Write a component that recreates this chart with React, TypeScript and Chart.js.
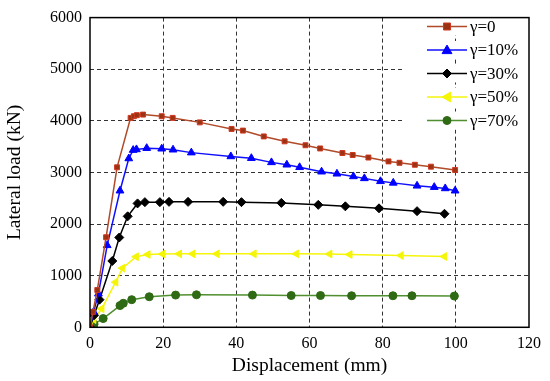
import React, { useEffect, useRef } from "react";
import { Chart, registerables } from "chart.js";

Chart.register(...registerables);

const seriesLabels = ["γ=0", "γ=10%", "γ=30%", "γ=50%", "γ=70%"];

const x0 = [0, 0.8, 2.0, 4.4, 7.4, 11.1, 12.0, 12.8, 14.5, 19.6, 22.6, 30, 38.7, 41.8, 47.5, 53.2, 58.9, 62.9, 69, 71.8, 76.1, 81.6, 84.6, 88.8, 93.2, 99.8];
const y0 = [0, 300, 723, 1745, 3100, 4057, 4089, 4110, 4121, 4089, 4057, 3970, 3843, 3811, 3698, 3603, 3527, 3465, 3376, 3338, 3289, 3214, 3187, 3149, 3112, 3049];

const x10 = [0, 1.0, 2.3, 4.7, 8.2, 10.6, 11.8, 12.7, 15.5, 19.6, 22.7, 27.7, 38.5, 44.1, 49.6, 53.8, 57.3, 63.3, 67.5, 72, 75, 79.4, 82.9, 89.4, 94.1, 97.1, 99.8];
const y10 = [0, 300, 650, 1588, 2646, 3270, 3433, 3446, 3470, 3459, 3440, 3384, 3310, 3276, 3195, 3149, 3100, 3014, 2974, 2923, 2885, 2828, 2798, 2741, 2715, 2690, 2646];

const x30 = [0, 1.1, 2.6, 6.1, 8.0, 10.3, 13.0, 15, 19.1, 21.6, 26.8, 36.4, 41.4, 52.3, 62.4, 69.8, 79, 89.4, 96.9];
const y30 = [0, 232, 535, 1285, 1740, 2150, 2400, 2425, 2425, 2430, 2430, 2431, 2425, 2410, 2372, 2344, 2305, 2250, 2199];

const x50 = [0, 1.0, 3.2, 7.0, 8.9, 12.6, 15.8, 19.9, 24.4, 28.1, 34.7, 44.8, 56.4, 65.5, 71, 85, 96.9];
const y50 = [0, 150, 359, 875, 1146, 1367, 1410, 1420, 1423, 1423, 1423, 1423, 1423, 1420, 1410, 1391, 1372];

const x70 = [0, 1.1, 3.6, 8.2, 9.1, 11.4, 16.2, 23.4, 29.1, 44.4, 55, 63, 71.5, 82.8, 88, 99.6];
const y70 = [0, 60, 170, 421, 465, 535, 592, 624, 630, 624, 616, 616, 611, 611, 611, 605];

const xTicks = [0, 20, 40, 60, 80, 100, 120];
const yTicks = [0, 1000, 2000, 3000, 4000, 5000, 6000];

const styles = [
  { line: "#b04a28", fill: "#983414", stroke: "#d03820", shape: "rect", r: 3.5, rot: 0 },
  { line: "#1010ff", fill: "#0000ff", stroke: "#0000ff", shape: "triangle", r: 4.5, rot: 0 },
  { line: "#000000", fill: "#000000", stroke: "#000000", shape: "rectRot", r: 4.5, rot: 0 },
  { line: "#f5f50a", fill: "#f5f50a", stroke: "#f5f50a", shape: "triangle", r: 4.5, rot: 270 },
  { line: "#4f8f2f", fill: "#2f6a14", stroke: "#2f6a14", shape: "circle", r: 4, rot: 0 },
];

const xs = [x0, x10, x30, x50, x70];
const ys = [y0, y10, y30, y50, y70];

const FONT = "'Liberation Serif', 'Times New Roman', serif";

function drawMarker(ctx: CanvasRenderingContext2D, shape: string, cx: number, cy: number, r: number, rot: number) {
  ctx.save();
  ctx.translate(cx, cy);
  ctx.rotate((rot * Math.PI) / 180);
  ctx.beginPath();
  if (shape === "rect") {
    ctx.rect(-r, -r, 2 * r, 2 * r);
  } else if (shape === "triangle") {
    ctx.moveTo(0, -r * 1.1);
    ctx.lineTo(r * 1.1, r * 0.8);
    ctx.lineTo(-r * 1.1, r * 0.8);
    ctx.closePath();
  } else if (shape === "rectRot") {
    ctx.moveTo(0, -r);
    ctx.lineTo(r, 0);
    ctx.lineTo(0, r);
    ctx.lineTo(-r, 0);
    ctx.closePath();
  } else {
    ctx.arc(0, 0, r, 0, Math.PI * 2);
  }
  ctx.fill();
  ctx.stroke();
  ctx.restore();
}

const legendBgPlugin = {
  id: "legendBg",
  beforeDatasetsDraw(chart: any) {
    const { ctx, chartArea } = chart;
    const ly0 = 26.5, dy = 23.5;
    ctx.save();
    ctx.fillStyle = "#fff";
    seriesLabels.forEach((_l, i) => {
      const y = ly0 + i * dy;
      ctx.fillRect(405, y - 9, chartArea.right - 406, 18);
    });
    ctx.restore();
  },
};

const framePlugin = {
  id: "frameAndLegend",
  afterDraw(chart: any) {
    const { ctx, chartArea } = chart;
    ctx.save();
    ctx.strokeStyle = "#000";
    ctx.lineWidth = 1.5;
    ctx.strokeRect(chartArea.left, chartArea.top, chartArea.right - chartArea.left, chartArea.bottom - chartArea.top);
    const lx1 = 427, lx2 = 467, ly0 = 26.5, dy = 23.5;
    ctx.font = "17px " + FONT;
    ctx.textBaseline = "middle";
    ctx.textAlign = "left";
    seriesLabels.forEach((lab, i) => {
      const s = styles[i];
      const y = ly0 + i * dy;
      ctx.strokeStyle = s.line;
      ctx.lineWidth = 1.5;
      ctx.beginPath();
      ctx.moveTo(lx1, y);
      ctx.lineTo(lx2, y);
      ctx.stroke();
      ctx.fillStyle = s.fill;
      ctx.strokeStyle = s.stroke;
      ctx.lineWidth = 1;
      drawMarker(ctx, s.shape, (lx1 + lx2) / 2, y, s.r, s.rot);
      ctx.fillStyle = "#000";
      ctx.fillText(lab, 470, y + 1);
    });
    ctx.restore();
  },
};

export default function App() {
  const ref = useRef<HTMLCanvasElement | null>(null);
  useEffect(() => {
    if (!ref.current) return;
    const datasets = seriesLabels.map((lab, i) => ({
      label: lab,
      data: xs[i].map((x, j) => ({ x, y: ys[i][j] })),
      borderColor: styles[i].line,
      backgroundColor: styles[i].fill,
      pointBackgroundColor: styles[i].fill,
      pointBorderColor: styles[i].stroke,
      pointBorderWidth: 1,
      pointStyle: styles[i].shape,
      pointRotation: styles[i].rot,
      pointRadius: styles[i].r,
      borderWidth: 1.5,
      tension: 0,
      fill: false,
    }));
    const gridColor = (c: any) =>
      c.tick && (c.tick.value === 0 || c.tick.value === 120 || c.tick.value === 6000) ? "rgba(0,0,0,0)" : "#333";
    const chart = new Chart(ref.current, {
      type: "line",
      data: { datasets },
      options: {
        responsive: false,
        animation: false,
        devicePixelRatio: 1,
        layout: { padding: { top: 10, right: 21, left: 0, bottom: 0 } },
        plugins: { legend: { display: false }, tooltip: { enabled: false } },
        scales: {
          x: {
            type: "linear",
            min: 0,
            max: 120,
            afterBuildTicks: (s: any) => { s.ticks = xTicks.map((v) => ({ value: v })); },
            afterFit: (s: any) => { s.height = 53.7; },
            grid: { color: gridColor, lineWidth: 1, drawTicks: false },
            border: { display: false, dash: [4, 3] },
            ticks: { color: "#000", padding: 7, font: { family: FONT, size: 16 }, callback: (v: any) => String(v) },
            title: { display: true, text: "Displacement (mm)", color: "#000", padding: { top: 3, bottom: 3 }, font: { family: FONT, size: 19.5 } },
          },
          y: {
            type: "linear",
            min: 0,
            max: 6000,
            afterBuildTicks: (s: any) => { s.ticks = yTicks.map((v) => ({ value: v })); },
            afterFit: (s: any) => { s.width = 90; },
            grid: { color: gridColor, lineWidth: 1, drawTicks: false },
            border: { display: false, dash: [4, 3] },
            ticks: { color: "#000", padding: 8, font: { family: FONT, size: 16 }, callback: (v: any) => String(v) },
            title: { display: true, text: "Lateral load (kN)", color: "#000", padding: { top: 3, bottom: 3 }, font: { family: FONT, size: 19.5 } },
          },
        },
      },
      plugins: [legendBgPlugin, framePlugin],
    } as any);
    return () => chart.destroy();
  }, []);
  return (
    <div style={{ position: "absolute", left: 0, top: 0, width: 550, height: 381, background: "#fff" }}>
      <canvas ref={ref} width={550} height={381} style={{ width: 550, height: 381 }} />
    </div>
  );
}
